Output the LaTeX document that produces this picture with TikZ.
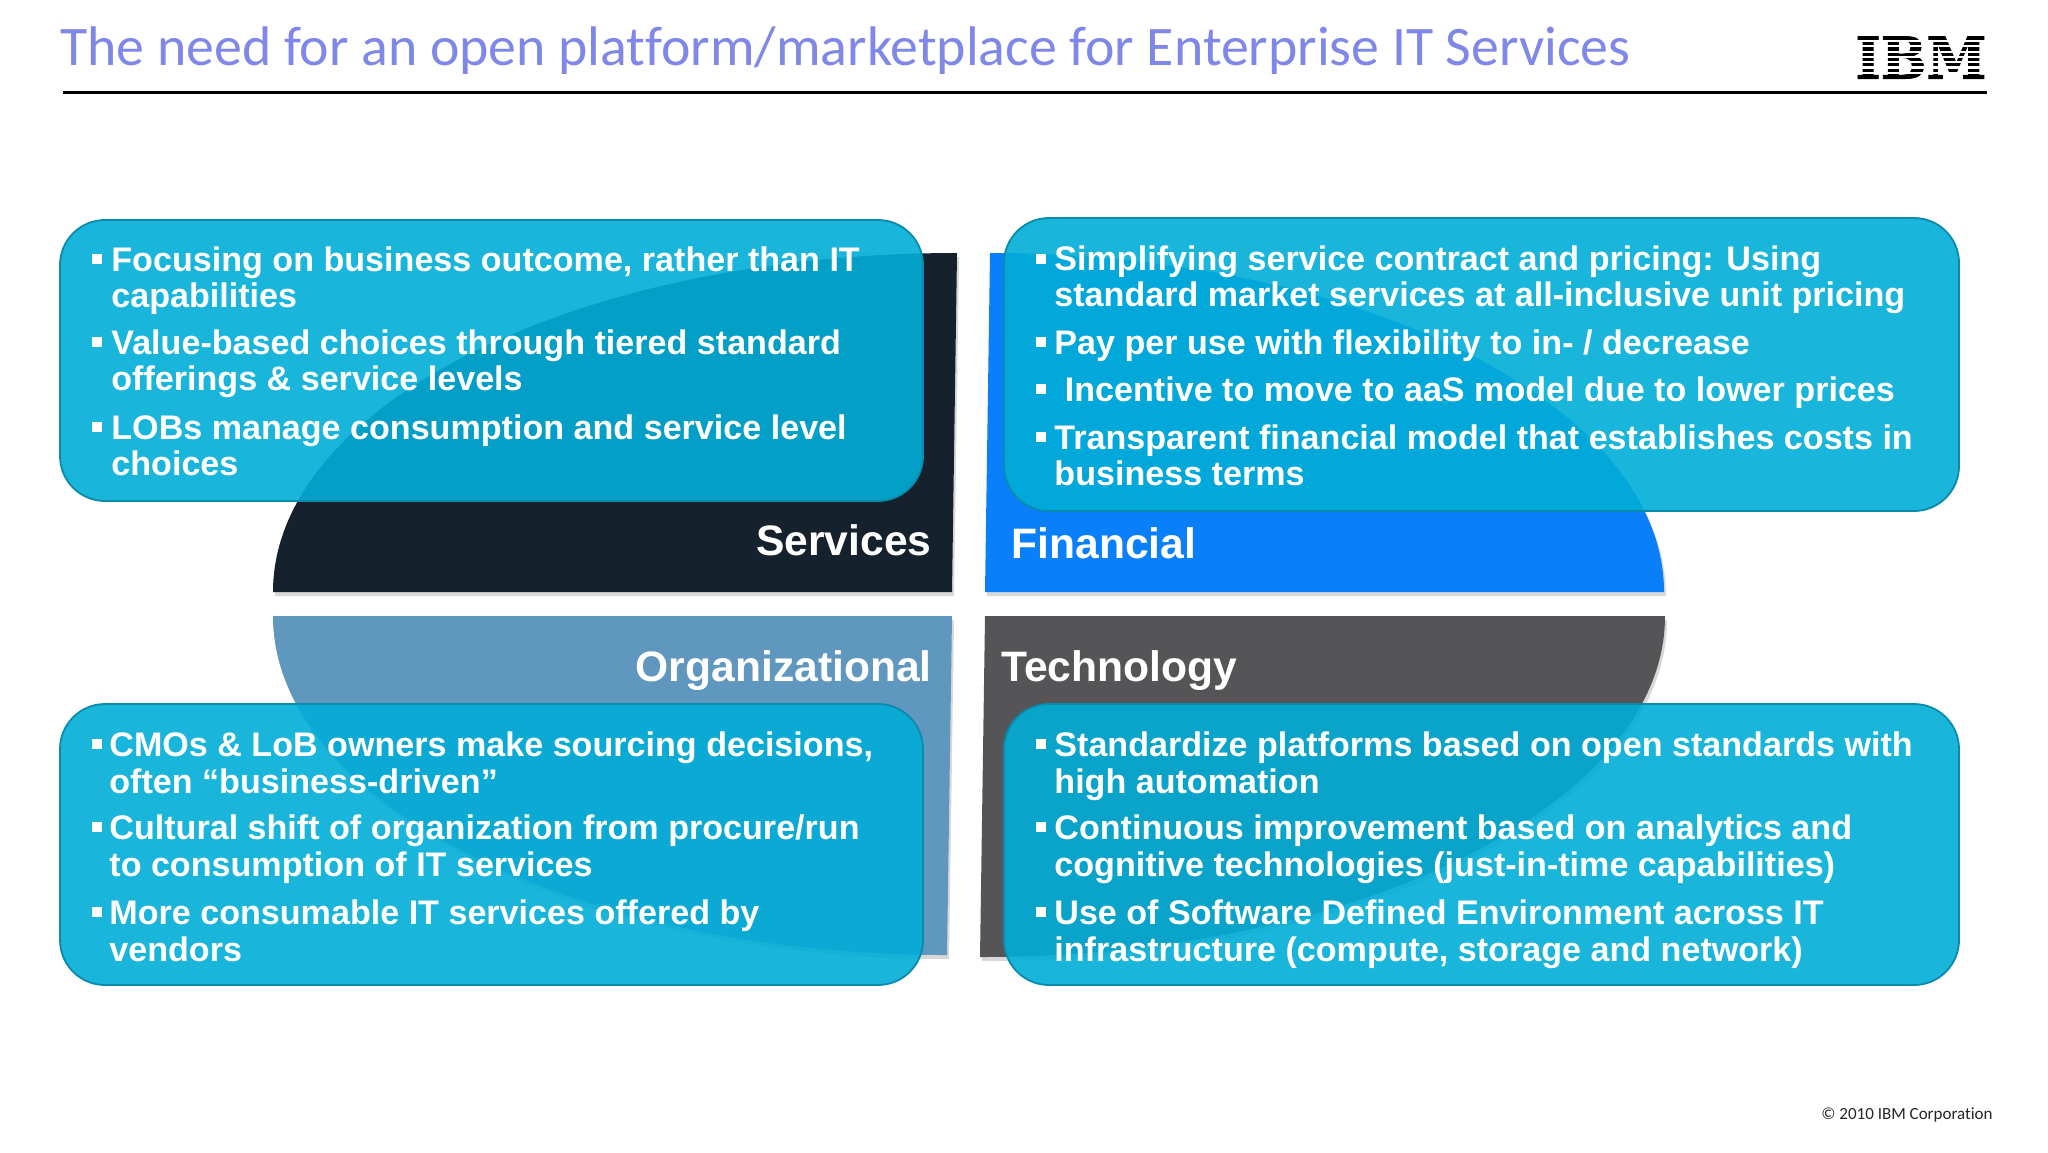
\documentclass[tikz,border=0pt]{standalone}
\usepackage{fontspec}
\setmainfont{Liberation Sans}
\newfontfamily\titlefont[Ligatures=NoCommon]{Carlito}
\newfontfamily\logofont[FakeBold=1.5]{DejaVu Serif}
\newfontfamily\footfont[Ligatures=NoCommon]{Carlito}
\usetikzlibrary{shadows}

\definecolor{titleblue}{HTML}{7F88E8}
\definecolor{servdark}{HTML}{15222E}
\definecolor{finblue}{HTML}{0A7FFA}
\definecolor{orgblue}{HTML}{5F97BF}
\definecolor{techgrey}{HTML}{555558}
\definecolor{panelfill}{HTML}{02ADD7}
\definecolor{paneledge}{HTML}{0A8BAB}

\tikzset{
	quadrant/.style={drop shadow={shadow xshift=1pt,shadow yshift=-2pt,opacity=.3}},
	panel/.style={draw=paneledge,line width=.9pt,fill=panelfill,fill opacity=.9,rounded corners=22.5pt},
	itemtext/.style={font=\fontsize{17.05}{18.25}\selectfont\bfseries,text=white,align=left,inner sep=0pt,anchor=base west},
	bulletmark/.style={fill=white,inner sep=0pt,minimum size=5pt},
	quadlabel/.style={font=\fontsize{21.3}{24}\selectfont\bfseries,text=white,inner sep=0pt}
}

\begin{document}
\begin{tikzpicture}[x=.5pt,y=-.5pt]
	\useasboundingbox (0,0) rectangle (2048,1152);
	\fill[white] (0,0) rectangle (2048,1152);

	% title and rule
	\node[font=\fontsize{27.9}{30}\titlefont,text=titleblue,inner sep=0pt,anchor=base west](title)at(60,65) {The need for an open platform/marketplace for Enterprise IT Services};
	\draw[line width=1.2pt](63,92.6)--(1987,92.6);

	% logo
	\node[inner sep=0pt,anchor=south west](logo)at(1855,79) {\resizebox{65.5pt}{21pt}{\logofont\bfseries IBM}};
	\foreach \ypos in {41,46.3,51.6,56.9,62.2,67.5,72.8}
		\draw[white,line width=1.1pt](1850,\ypos)--(1990,\ypos);

	% quadrants
	\fill[servdark,quadrant](957,253)--(952,592)--(273,592).. controls (273,405) and (577,253) .. (957,253)--cycle;
	\fill[finblue,quadrant](990,253)--(985,592)--(1664,592).. controls (1664,405) and (1360,253) .. (990,253)--cycle;
	\fill[orgblue,quadrant](273,616)--(952,616)--(947,955).. controls (577,955) and (273,803) .. (273,616)--cycle;
	\fill[techgrey,quadrant](985,616)--(1665,616).. controls (1665,803) and (1360,957) .. (980,957)--cycle;

	\node[quadlabel,anchor=base east](services)at(932,555) {Services};
	\node[quadlabel,anchor=base west](financial)at(1011,558) {Financial};
	\node[quadlabel,anchor=base east](organizational)at(932,681) {Organizational};
	\node[quadlabel,anchor=base west](technology)at(1001,681) {Technology};

	% panels
	\draw[panel](60,220) rectangle (923,501);
	\draw[panel](1004,218) rectangle (1959,511);
	\draw[panel](60,704) rectangle (923,985);
	\draw[panel](1004,704) rectangle (1959,985);

	% services
	\node[bulletmark](sqa)at(97,259) {};
	\node[itemtext](texta)at(111,307.5) {Focusing on business outcome, rather than IT\\capabilities};
	\node[bulletmark](sqb)at(97,342) {};
	\node[itemtext](textb)at(111,390.5) {Value-based choices through tiered standard\\offerings \& service levels};
	\node[bulletmark](sqc)at(97,427) {};
	\node[itemtext](textc)at(111,475.5) {LOBs manage consumption and service level\\choices};

	% financial
	\node[bulletmark](sqd)at(1041,259) {};
	\node[itemtext](textd)at(1054,306.5) {Simplifying service contract and pricing: Using\\standard market services at all-inclusive unit pricing};
	\node[bulletmark](sqe)at(1041,342) {};
	\node[itemtext](texte)at(1054,354.5) {Pay per use with flexibility to in- / decrease};
	\node[bulletmark](sqf)at(1041,389) {};
	\node[itemtext](textf)at(1064.5,401) {Incentive to move to aaS model due to lower prices};
	\node[bulletmark](sqg)at(1041,437) {};
	\node[itemtext](textg)at(1054,485.5) {Transparent financial model that establishes costs in\\business terms};

	% organizational
	\node[bulletmark](sqh)at(97,744) {};
	\node[itemtext](texth)at(109,793) {CMOs \& LoB owners make sourcing decisions,\\often “business-driven”};
	\node[bulletmark](sqi)at(97,827) {};
	\node[itemtext](texti)at(109,876) {Cultural shift of organization from procure/run\\to consumption of IT services};
	\node[bulletmark](sqj)at(97,912) {};
	\node[itemtext](textj)at(109,961) {More consumable IT services offered by\\vendors};

	% technology
	\node[bulletmark](sqk)at(1041,744) {};
	\node[itemtext](textk)at(1054,793) {Standardize platforms based on open standards with\\high automation};
	\node[bulletmark](sql)at(1041,827) {};
	\node[itemtext](textl)at(1054,876) {Continuous improvement based on analytics and\\cognitive technologies (just-in-time capabilities)};
	\node[bulletmark](sqm)at(1041,912) {};
	\node[itemtext](textm)at(1054,961) {Use of Software Defined Environment across IT\\infrastructure (compute, storage and network)};

	% footer
	\node[font=\fontsize{8.5}{10}\footfont,text=black!85,inner sep=0pt,anchor=east](copyright)at(1993,1115) {© 2010 IBM Corporation};
\end{tikzpicture}
\end{document}
